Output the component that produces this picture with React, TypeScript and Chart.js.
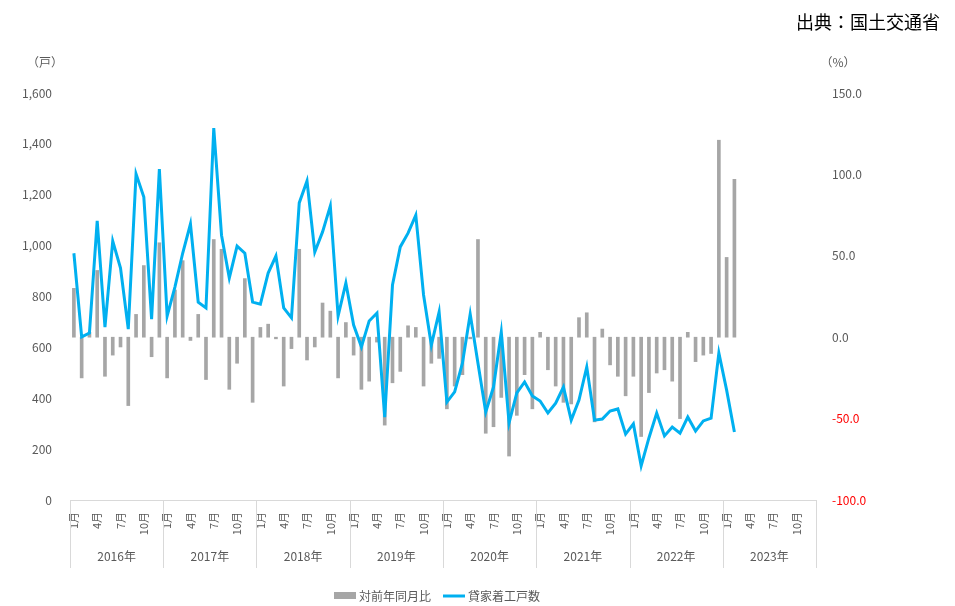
import React, { useEffect, useRef } from "react";
import { Chart, registerables } from "chart.js";
Chart.register(...registerables);

const years = ["2016年", "2017年", "2018年", "2019年", "2020年", "2021年", "2022年", "2023年"];
const monthLabels: string[] = [];
for (let y = 0; y < 8; y++) for (let m = 1; m <= 12; m++) monthLabels.push(`${y}-${m}月`);
const starts = [970, 641, 656, 1097, 680, 1018, 912, 672, 1282, 1191, 711, 1301,
  723, 837, 970, 1085, 778, 755, 1462, 1041, 873, 998, 970, 778,
  770, 892, 959, 755, 716, 1168, 1254, 975, 1054, 1156, 723, 853,
  688, 602, 704, 735, 326, 845, 995, 1049, 1120, 806, 609, 739,
  385, 425, 538, 731, 538, 346, 444, 660, 303, 421, 464, 409,
  389, 342, 381, 444, 314, 393, 523, 314, 318, 350, 358, 259,
  299, 134, 244, 342, 252, 287, 263, 326, 271, 311, 322, 578,
  432, 267];
const yoy = [30, -25, 3, 41, -24, -11, -6, -42, 14, 44, -12, 58,
  -25, 29, 47, -2, 14, -26, 60, 54, -32, -16, 36, -40,
  6, 8, -1, -30, -7, 54, -14, -6, 21, 16, -25, 9,
  -11, -32, -27, -3, -54, -28, -21, 7, 6, -30, -16, -13,
  -44, -30, -23, -1, 60, -59, -55, -37, -73, -48, -23, -44,
  3, -20, -30, -40, -41, 12, 15, -52, 5, -17, -24, -36,
  -24, -61, -34, -22, -20, -27, -50, 3, -15, -11, -10, 121,
  49, 97];
const FONT = "'Noto Sans CJK JP', 'Noto Sans', sans-serif";

const overlay = {
  id: "overlay",
  afterDraw(chart: any) {
    const { ctx, scales, chartArea } = chart;
    const x = scales.x;
    const step = x.getPixelForValue(1) - x.getPixelForValue(0);
    ctx.save();
    ctx.strokeStyle = "#d9d9d9";
    ctx.lineWidth = 1;
    ctx.beginPath();
    ctx.moveTo(chartArea.left, chartArea.bottom + 0.5);
    ctx.lineTo(chartArea.right, chartArea.bottom + 0.5);
    for (let k = 0; k <= 8; k++) {
      const bx = Math.round(x.getPixelForValue(k * 12) - step / 2) + 0.5;
      ctx.moveTo(bx, chartArea.bottom);
      ctx.lineTo(bx, chartArea.bottom + 68);
    }
    ctx.stroke();
    ctx.fillStyle = "#595959";
    ctx.font = `12px ${FONT}`;
    ctx.textAlign = "center";
    ctx.textBaseline = "middle";
    years.forEach((yl, k) => {
      const cx = (x.getPixelForValue(k * 12) + x.getPixelForValue(k * 12 + 11)) / 2;
      ctx.fillText(yl, cx, 556);
    });
    ctx.font = `12px ${FONT}`;
    ctx.fillText("（戸）", 45, 62);
    ctx.fillText("（%）", 838, 62);
    ctx.fillStyle = "#000";
    ctx.font = `18px ${FONT}`;
    ctx.textAlign = "right";
    ctx.fillText("出典：国土交通省", 940, 22);
    // legend
    ctx.font = `12px ${FONT}`;
    ctx.textAlign = "left";
    ctx.fillStyle = "#a6a6a6";
    ctx.fillRect(334, 592, 22, 7);
    ctx.fillStyle = "#595959";
    ctx.fillText("対前年同月比", 359, 596);
    ctx.strokeStyle = "#00b0f0";
    ctx.lineWidth = 3;
    ctx.beginPath();
    ctx.moveTo(443, 596);
    ctx.lineTo(465, 596);
    ctx.stroke();
    ctx.fillText("貸家着工戸数", 468, 596);
    ctx.restore();
  },
};

export default function App() {
  const ref = useRef<HTMLCanvasElement>(null);
  useEffect(() => {
    document.body.style.margin = "0";
    const chart = new Chart(ref.current!, {
      type: "bar",
      data: {
        labels: monthLabels,
        datasets: [
          {
            type: "line",
            label: "貸家着工戸数",
            data: starts,
            borderColor: "#00b0f0",
            borderWidth: 3,
            pointRadius: 0,
            tension: 0,
            yAxisID: "y",
            order: 0,
          } as any,
          {
            type: "bar",
            label: "対前年同月比",
            data: yoy,
            backgroundColor: "#a6a6a6",
            barThickness: 3,
            yAxisID: "y1",
            order: 1,
          },
        ],
      },
      options: {
        animation: false,
        responsive: false,
        layout: { padding: { top: 93, left: 0, right: 0, bottom: 0 } },
        plugins: { legend: { display: false }, tooltip: { enabled: false } },
        scales: {
          x: {
            grid: { display: false },
            border: { display: false },
            ticks: {
              autoSkip: false,
              maxRotation: 90,
              minRotation: 90,
              padding: 4,
              color: "#595959",
              font: { size: 11, family: FONT },
              callback: (v: any, i: number) => (i % 3 === 0 ? monthLabels[i].split("-")[1] : ""),
            },
            afterFit: (s: any) => { s.height = 106; },
          },
          y: {
            position: "left",
            min: 0,
            max: 1600,
            grid: { display: false },
            border: { display: false },
            ticks: {
              stepSize: 200,
              padding: 10,
              color: "#595959",
              font: { size: 12, family: FONT },
              callback: (v: any) => Number(v).toLocaleString("en-US"),
            },
            afterFit: (s: any) => { s.width = 70; },
          },
          y1: {
            position: "right",
            min: -100,
            max: 150,
            grid: { display: false },
            border: { display: false },
            ticks: {
              stepSize: 50,
              padding: 8,
              color: (c: any) => (c.tick && c.tick.value < 0 ? "#ff0000" : "#595959"),
              font: { size: 12, family: FONT },
              callback: (v: any) => Number(v).toFixed(1),
            },
            afterFit: (s: any) => { s.width = 139; },
          },
        },
      },
      plugins: [overlay],
    });
    return () => chart.destroy();
  }, []);
  return (
    <div style={{ position: "absolute", left: 0, top: 0, width: 955, height: 606, background: "#fff" }}>
      <canvas ref={ref} width={955} height={606} style={{ width: 955, height: 606 }} />
    </div>
  );
}
